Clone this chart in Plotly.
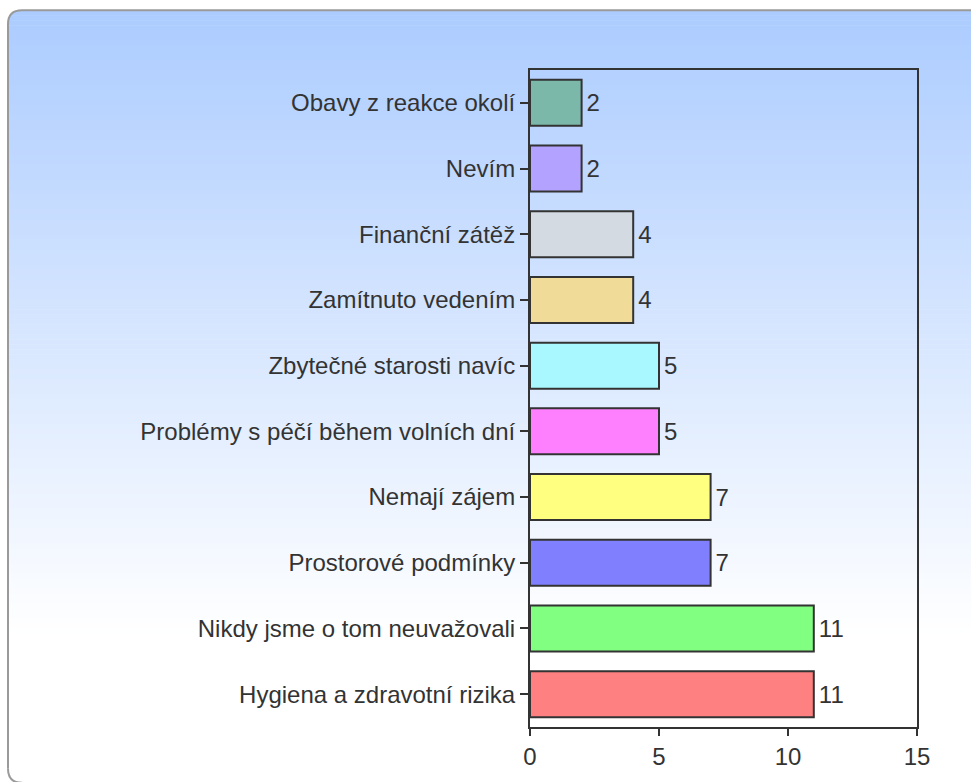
import plotly.graph_objects as go

categories = [
    "Obavy z reakce okolí",
    "Nevím",
    "Finanční zátěž",
    "Zamítnuto vedením",
    "Zbytečné starosti navíc",
    "Problémy s péčí během volních dní",
    "Nemají zájem",
    "Prostorové podmínky",
    "Nikdy jsme o tom neuvažovali",
    "Hygiena a zdravotní rizika",
]
values = [2, 2, 4, 4, 5, 5, 7, 7, 11, 11]
bar_colors = [
    "#7bb8aa", "#b3a2ff", "#d4dae2", "#f0dc98", "#aaf8ff",
    "#ff80ff", "#ffff80", "#8080ff", "#80ff80", "#ff8080",
]
x_ticks = [0, 5, 10, 15]

W, H = 971, 782
L, R, T, B = 530, 54, 70, 53
PW, PH = W - L - R, H - T - B


def px(x):
    return (x - L) / PW


def py(y):
    return (H - B - y) / PH


FONT = "Liberation Sans, Arial, sans-serif"
TXT = "#333333"
FS = 24

fig = go.Figure(
    go.Bar(
        y=categories,
        x=values,
        orientation="h",
        marker=dict(color=bar_colors, line=dict(color="#333333", width=2)),
        text=[str(v) for v in values],
        texttemplate="\u200a%{text}",
        textposition="outside",
        textfont=dict(family=FONT, size=FS, color=TXT),
        cliponaxis=False,
        hoverinfo="x+y",
    )
)

shapes = []
# background gradient (top light blue -> white)
top_c = (172, 204, 255)
g_top, g_bot = 10, 640
n = 126
step = (g_bot - g_top) / n
for i in range(n):
    t = i / (n - 1)
    c = tuple(round(top_c[k] + (255 - top_c[k]) * t) for k in range(3))
    y0 = g_top + i * step
    y1 = y0 + step + 0.6
    shapes.append(dict(
        type="rect", xref="paper", yref="paper",
        x0=px(8), x1=px(1000), y0=py(y1), y1=py(y0),
        fillcolor="rgb(%d,%d,%d)" % c, line=dict(width=0), layer="below",
    ))

fl, ft, fr, fb, rad = 8, 10, 1010, 785, 14
# white mask outside rounded top-left corner
shapes.append(dict(
    type="path", xref="paper", yref="paper", layer="below",
    path="M %f,%f L %f,%f Q %f,%f %f,%f Z" % (
        px(fl - 1), py(ft - 1), px(fl + rad), py(ft - 1),
        px(fl), py(ft), px(fl - 1), py(ft + rad)),
    fillcolor="white", line=dict(width=0),
))
# frame border
shapes.append(dict(
    type="path", xref="paper", yref="paper", layer="below",
    path="M %f,%f L %f,%f Q %f,%f %f,%f L %f,%f" % (
        px(fl), py(fb - rad), px(fl), py(ft + rad),
        px(fl), py(ft), px(fl + rad), py(ft),
        px(fr), py(ft)),
    line=dict(color="#9a9a9a", width=2),
))
shapes.append(dict(
    type="path", xref="paper", yref="paper", layer="below",
    path="M %f,%f Q %f,%f %f,%f" % (
        px(fl), py(fb - rad), px(fl), py(fb), px(fl + rad), py(fb)),
    line=dict(color="#9a9a9a", width=2),
))

fig.update_layout(
    width=W, height=H,
    margin=dict(l=L, r=R, t=T, b=B, pad=0),
    paper_bgcolor="white",
    plot_bgcolor="rgba(0,0,0,0)",
    showlegend=False,
    bargap=0.3,
    font=dict(family=FONT, size=FS, color=TXT),
    shapes=shapes,
    xaxis=dict(
        range=[0, 15], tickvals=x_ticks, ticktext=[str(v) for v in x_ticks],
        showgrid=False, zeroline=False,
        showline=True, mirror=True, linecolor="#333333", linewidth=2,
        ticks="outside", ticklen=7, tickwidth=2, tickcolor="#333333",
        tickfont=dict(family=FONT, size=FS, color=TXT),
        fixedrange=True,
    ),
    yaxis=dict(
        autorange="reversed",
        showgrid=False, zeroline=False,
        showline=True, mirror=True, linecolor="#333333", linewidth=2,
        ticks="outside", ticklen=8, tickwidth=2, tickcolor="#333333",
        tickfont=dict(family=FONT, size=FS, color=TXT),
        fixedrange=True,
    ),
)

fig.write_html(
    "out.html",
    config={"displayModeBar": False},
    post_script="document.body.style.margin='0px';document.body.style.overflow='hidden';",
)
